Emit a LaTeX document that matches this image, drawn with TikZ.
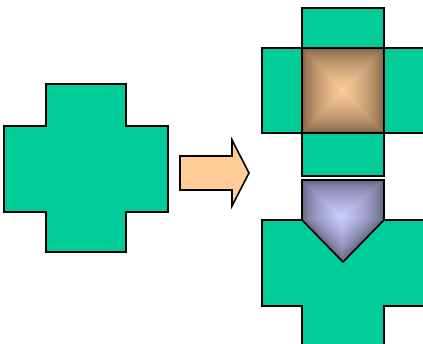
\documentclass[tikz,border=0pt]{standalone}
\definecolor{crossgreen}{HTML}{00CC99}
\definecolor{peach}{HTML}{FFCC99}
\definecolor{peachdark}{HTML}{76593F}
\definecolor{lav}{HTML}{CCCCFF}
\definecolor{lavdark}{HTML}{5C5C78}
\tikzset{
  piece/.style={fill=crossgreen,draw=black,line width=1.6pt,line join=miter},
  edge/.style={draw=black,line width=1.6pt,line join=miter},
  arrowshape/.style={fill=peach,draw=black,line width=1.6pt,line join=miter}
}
\begin{document}
\begin{tikzpicture}[x=1pt,y=-1pt]
\useasboundingbox (0,0) rectangle (423,344);
\clip (0,0) rectangle (423,344);
% left cross
\path[piece] (46,84) -- (126,84) -- (126,126) -- (168,126) -- (168,212) -- (126,212)
  -- (126,252) -- (46,252) -- (46,212) -- (4,212) -- (4,126) -- (46,126) -- cycle;
% arrow
\path[arrowshape] (180,156) -- (232,156) -- (232,140) -- (249,173) -- (232,206)
  -- (232,190) -- (180,190) -- cycle;
% top right cross pieces
\path[piece] (302,8) rectangle (384,48);
\path[piece] (262,48) rectangle (302,133);
\path[piece] (384,48) rectangle (440,133);
\path[piece] (302,133) rectangle (384,176);
% shaded square
\foreach \i in {0,...,59}{
  \pgfmathsetmacro{\s}{1-\i/60}
  \pgfmathsetmacro{\p}{100*(\i/59)^0.6}
  \fill[peach!\p!peachdark, scale around={\s:(343,90.5)}] (302,48) rectangle (384,133);
}
\path[edge] (302,48) rectangle (384,133);
% bottom cross
\path[piece] (262,220) -- (440,220) -- (440,306) -- (384,306) -- (384,360) -- (302,360)
  -- (302,306) -- (262,306) -- cycle;
% shaded pentagon
\foreach \i in {0,...,59}{
  \pgfmathsetmacro{\s}{1-\i/60}
  \pgfmathsetmacro{\p}{100*(\i/59)^0.6}
  \fill[lav!\p!lavdark, scale around={\s:(341,217)}] (302,180) -- (384,180) -- (384,220)
    -- (343,262) -- (302,220) -- cycle;
}
\path[edge] (302,180) -- (384,180) -- (384,220) -- (343,262) -- (302,220) -- cycle;
\end{tikzpicture}
\end{document}
